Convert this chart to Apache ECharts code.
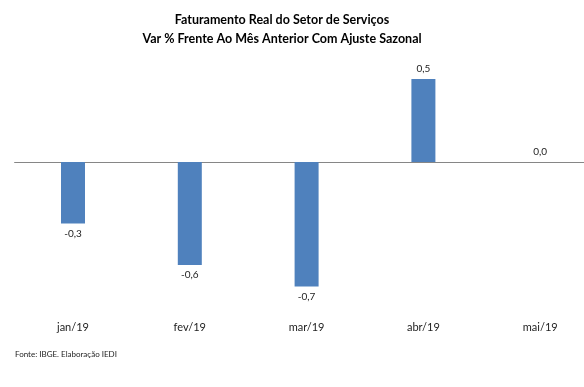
<!DOCTYPE html>
<html><head><meta charset="utf-8">
<script src="https://cdn.jsdelivr.net/npm/echarts@6/dist/echarts.min.js"></script>
<style>html,body{margin:0;padding:0;background:#fff;overflow:hidden}#c{width:600px;height:387px}</style>
</head><body><div id="c"></div>
<script>
const categories = ['jan/19', 'fev/19', 'mar/19', 'abr/19', 'mai/19'];
const values = [-0.37, -0.62, -0.75, 0.50, 0.0];
const titleLines = ['Faturamento Real do Setor de Serviços', 'Var % Frente Ao Mês Anterior Com Ajuste Sazonal'];
const sourceText = 'Fonte: IBGE. Elaboração IEDI';

function fmt(v) {
  const t = Math.trunc(v * 10) / 10;
  return (v < 0 ? '-' : '') + Math.abs(t).toFixed(1).replace('.', ',');
}

const chart = echarts.init(document.getElementById('c'), null, {renderer: 'canvas'});
chart.setOption({
  animation: false,
  backgroundColor: '#fff',
  title: [
    {text: titleLines.join('\n'), left: 277, top: 5, textAlign: 'center',
     textStyle: {fontFamily: 'Lato', fontWeight: 'bold', fontSize: 12.5, lineHeight: 19, color: '#000'}},
    {text: sourceText, left: 10, top: 345,
     textStyle: {fontFamily: 'Lato', fontWeight: 'normal', fontSize: 8, color: '#222'}}
  ],
  grid: {left: 14.6, width: 584, top: 62.4, height: 249, containLabel: false},
  xAxis: [
    {type: 'category', data: categories, position: 'bottom',
     axisLine: {show: false, onZero: false}, axisTick: {show: false},
     axisLabel: {margin: 11, fontFamily: 'Lato', fontSize: 11, color: '#222'}},
    {type: 'category', data: categories, position: 'bottom',
     axisLine: {show: true, onZero: true, lineStyle: {color: '#868686', width: 1}},
     axisTick: {show: false}, axisLabel: {show: false}}
  ],
  yAxis: {type: 'value', min: -0.9, max: 0.6, show: false, splitLine: {show: false}},
  series: [{
    type: 'bar', xAxisIndex: 0, barWidth: 24,
    data: values.map(v => v === 0 ? {value: v, label: {position: 'top'}} : v),
    itemStyle: {color: '#4F81BD'},
    label: {show: true, position: 'outside', distance: 5, fontFamily: 'Lato', fontSize: 10, color: '#222',
      formatter: p => fmt(p.value)}
  }]
});
</script></body></html>
